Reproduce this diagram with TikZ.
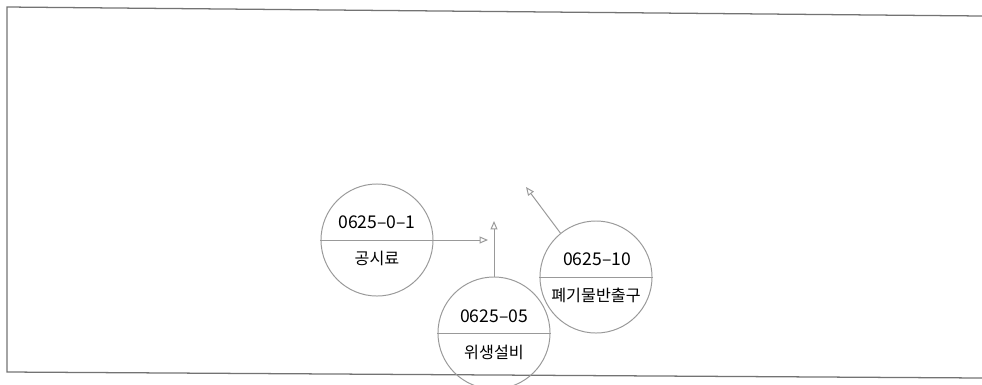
\documentclass[tikz,border=0pt]{standalone}
\usepackage{fontspec}
\setmainfont{Noto Sans CJK KR}
\usetikzlibrary{arrows.meta}
\tikzset{
  room/.style={circle,draw=black!40,line width=0.7pt,minimum size=2.8cm,inner sep=0pt},
  roomcode/.style={font=\fontsize{12.5}{14}\selectfont},
  roomname/.style={font=\fontsize{11.5}{13}\selectfont},
  tip/.style={draw=black!40,line width=0.7pt,-{Triangle[open,length=6pt,width=5pt]}},
}
\begin{document}
\begin{tikzpicture}[x=0.025cm,y=-0.025cm]
        \useasboundingbox (0,0) rectangle (982,384);
        % frame
        \coordinate (tl) at (7,7);
        \coordinate (tr) at (982,16);
        \coordinate (bl) at (7,372);
        \coordinate (br) at (982,378);
        \draw[black!55,line width=0.9pt] (tr) -- (tl) -- (bl) -- (br);
        % rooms
        \node[room] at (377,240) (A) {};
        \node[roomcode] at (377,222) (A1) {0625--0--1};
        \node[roomname] at (377,258) (A2) {공시료};
        \node[room] at (494,333) (B) {};
        \node[roomcode] at (494,316) (B1) {0625--05};
        \node[roomname] at (494,352) (B2) {위생설비};
        \node[room] at (596,277) (C) {};
        \node[roomcode] at (597,259) (C1) {0625--10};
        \node[roomname] at (596,295) (C2) {폐기물반출구};
        \coordinate (a) at (488,240);
        \coordinate (b) at (494,221);
        \coordinate (c) at (526,187);
        \draw[draw=black!40,line width=0.7pt] (B.west) -- (B.east);
        \draw[draw=black!40,line width=0.7pt] (C.west) -- (C.east);
        \draw[tip] (A.west) -- (a);
        \draw[tip] (B.north) -- (b);
        \draw[tip] (C.129) -- (c);
\end{tikzpicture}
\end{document}
